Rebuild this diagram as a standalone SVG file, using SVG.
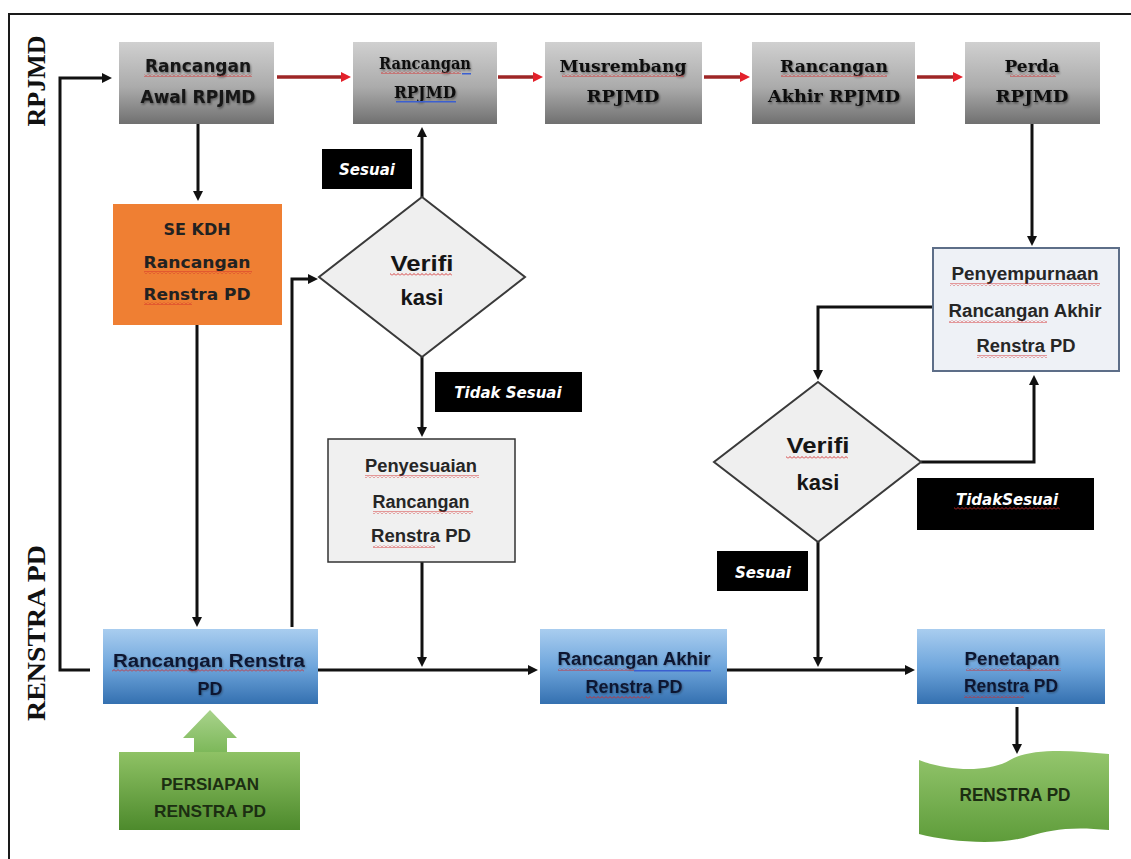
<svg xmlns="http://www.w3.org/2000/svg" width="1131" height="859" viewBox="0 0 1131 859">
<style>
.gray{fill:url(#gGray);}
.blue{fill:url(#gBlue);}
.ts{font-family:"DejaVu Sans",sans-serif;font-weight:bold;font-size:17px;fill:#151515;text-anchor:middle;filter:url(#sh);}
.tserif{font-family:"DejaVu Serif",serif;font-weight:bold;font-size:17px;fill:#111;text-anchor:middle;filter:url(#sh);}
.tse{font-family:"DejaVu Sans",sans-serif;font-weight:bold;font-size:16px;fill:#222;text-anchor:middle;}
.tdia{font-family:"Liberation Sans",Arial,sans-serif;font-weight:bold;font-size:22px;fill:#151515;text-anchor:middle;}
.tbox{font-family:"Liberation Sans",Arial,sans-serif;font-weight:bold;font-size:18px;fill:#262626;text-anchor:middle;}
.tblue{font-family:"Liberation Sans",Arial,sans-serif;font-weight:bold;font-size:18px;fill:#0f1830;text-anchor:middle;filter:url(#sh2);}
.tgreen{font-family:"Liberation Sans",Arial,sans-serif;font-weight:bold;font-size:17px;fill:#1c2e12;text-anchor:middle;}
.lbl{font-family:"DejaVu Sans",sans-serif;font-weight:bold;font-style:italic;font-size:15px;fill:#fff;text-anchor:middle;}
.lane{font-family:"Liberation Serif","Times New Roman",serif;font-weight:bold;font-size:26px;fill:#111;text-anchor:middle;}
.dia{fill:#efefef;stroke:#3a3a3a;stroke-width:2;}
.con{fill:none;stroke:#111;stroke-width:3;marker-end:url(#ah);}
.red{fill:none;stroke:#9e2626;stroke-width:3.5;marker-end:url(#ahr);}
.sq{fill:url(#sq);}
.sqb{fill:#3b5fd0;}
</style>
<defs>
<linearGradient id="gGray" x1="0" y1="0" x2="0" y2="1">
<stop offset="0" stop-color="#d0d0d0"/><stop offset="0.55" stop-color="#ababab"/><stop offset="1" stop-color="#707070"/>
</linearGradient>
<linearGradient id="gBlue" x1="0" y1="0" x2="0" y2="1">
<stop offset="0" stop-color="#a9cdef"/><stop offset="0.5" stop-color="#6fa6dc"/><stop offset="1" stop-color="#3470b0"/>
</linearGradient>
<linearGradient id="gGreen" x1="0" y1="0" x2="0" y2="1">
<stop offset="0" stop-color="#8fc265"/><stop offset="1" stop-color="#4d8a2c"/>
</linearGradient>
<linearGradient id="gDoc" x1="0" y1="0" x2="0" y2="1">
<stop offset="0" stop-color="#94c66d"/><stop offset="1" stop-color="#5e9c3a"/>
</linearGradient>
<linearGradient id="gArr" x1="0" y1="0" x2="0" y2="1">
<stop offset="0" stop-color="#a9d38c"/><stop offset="1" stop-color="#7db85a"/>
</linearGradient>
<pattern id="sq" patternUnits="userSpaceOnUse" width="4" height="3">
<path d="M0,2.5 L2,0.5 L4,2.5" fill="none" stroke="#d42a2a" stroke-width="0.9"/>
</pattern>
<filter id="sh" x="-10%" y="-40%" width="120%" height="180%">
<feDropShadow dx="1" dy="1.5" stdDeviation="1.2" flood-color="#000" flood-opacity="0.45"/>
</filter>
<filter id="sh2" x="-10%" y="-40%" width="120%" height="180%">
<feDropShadow dx="0.8" dy="1" stdDeviation="1" flood-color="#000" flood-opacity="0.35"/>
</filter>
<marker id="ah" viewBox="0 0 10 10" markerWidth="11" markerHeight="10" refX="1" refY="5" orient="auto" markerUnits="userSpaceOnUse">
<path d="M0,0 L10,5 L0,10 z" fill="#111"/>
</marker>
<marker id="ahr" viewBox="0 0 10 10" markerWidth="11" markerHeight="10" refX="1" refY="5" orient="auto" markerUnits="userSpaceOnUse">
<path d="M0,0 L10,5 L0,10 z" fill="#e3212b"/>
</marker>
</defs>

<rect x="0" y="0" width="1131" height="859" fill="#fff"/>
<path d="M9,859 V14 H1131" fill="none" stroke="#1a1a1a" stroke-width="2"/>

<g id="lanes">
<text class="lane" transform="translate(45,81) rotate(-90)">RPJMD</text>
<text class="lane" transform="translate(45,633) rotate(-90)" textLength="176" lengthAdjust="spacingAndGlyphs">RENSTRA PD</text>
</g>

<g id="connectors">
<path class="red" d="M277,77 H342"/>
<path class="red" d="M498,77 H534"/>
<path class="red" d="M704,77 H741"/>
<path class="red" d="M917,77 H954"/>
<path class="con" d="M90,670 H60 V78 H103"/>
<path class="con" d="M198,124 V192"/>
<path class="con" d="M197,325 V618"/>
<path class="con" d="M292,627 V279 H309"/>
<path class="con" d="M422,197 V136"/>
<path class="con" d="M422,357 V428"/>
<path class="con" d="M422,562 V658"/>
<path class="con" d="M318,670 H529"/>
<path class="con" d="M727,670 H906"/>
<path class="con" d="M1032,124 V237"/>
<path class="con" d="M933,307 H818 V371"/>
<path class="con" d="M921,462 H1034 V384"/>
<path class="con" d="M818,542 V658"/>
<path class="con" d="M1017,707 V745"/>
</g>

<g id="n-rancangan-awal">
<rect class="gray" x="119" y="42" width="155" height="82"/>
<text class="ts" x="198" y="72">Rancangan</text>
<rect class="sq" x="144" y="74" width="108" height="3"/>
<text class="ts" x="198" y="103">Awal RPJMD</text>
</g>

<g id="n-rancangan-rpjmd">
<rect class="gray" x="353" y="42" width="144" height="82"/>
<text class="tserif" x="425" y="69" style="font-size:16px" textLength="92" lengthAdjust="spacingAndGlyphs">Rancangan</text>
<rect class="sq" x="381" y="71" width="80" height="3"/>
<rect class="sqb" x="462" y="73" width="9" height="1.5"/>
<text class="tserif" x="425" y="98" style="font-size:16px" textLength="62" lengthAdjust="spacingAndGlyphs">RPJMD</text>
<rect class="sqb" x="396" y="101" width="60" height="1.5"/>
</g>

<g id="n-musrembang">
<rect class="gray" x="545" y="42" width="157" height="82"/>
<text class="tserif" x="623" y="72" textLength="127" lengthAdjust="spacingAndGlyphs">Musrembang</text>
<rect class="sq" x="562" y="74" width="122" height="3"/>
<text class="tserif" x="623" y="102" textLength="73" lengthAdjust="spacingAndGlyphs">RPJMD</text>
</g>

<g id="n-akhir-rpjmd">
<rect class="gray" x="752" y="42" width="163" height="82"/>
<text class="tserif" x="834" y="72" textLength="108" lengthAdjust="spacingAndGlyphs">Rancangan</text>
<rect class="sq" x="781" y="74" width="106" height="3"/>
<text class="tserif" x="834" y="102" textLength="132" lengthAdjust="spacingAndGlyphs">Akhir RPJMD</text>
</g>

<g id="n-perda">
<rect class="gray" x="965" y="42" width="135" height="82"/>
<text class="tserif" x="1032" y="72">Perda</text>
<rect class="sq" x="1010" y="74" width="46" height="3"/>
<text class="tserif" x="1032" y="102" textLength="73" lengthAdjust="spacingAndGlyphs">RPJMD</text>
</g>

<g id="n-sekdh">
<rect x="113" y="204" width="169" height="121" fill="#ef7f33"/>
<text class="tse" x="197" y="235">SE KDH</text>
<text class="tse" x="197" y="268" textLength="107" lengthAdjust="spacingAndGlyphs">Rancangan</text>
<rect class="sq" x="144" y="271" width="108" height="3"/>
<text class="tse" x="197" y="300" textLength="107" lengthAdjust="spacingAndGlyphs">Renstra PD</text>
<rect class="sq" x="144" y="302" width="48" height="3"/>
</g>

<g id="n-verif1">
<polygon class="dia" points="422,197 525,277 422,357 319,277"/>
<text class="tdia" x="422" y="271" textLength="63" lengthAdjust="spacingAndGlyphs">Verifi</text>
<rect class="sq" x="390" y="273" width="62" height="3"/>
<text class="tdia" x="422" y="305">kasi</text>
</g>

<g id="n-penyesuaian">
<rect x="328" y="439" width="187" height="123" fill="#f0f0f0" stroke="#333" stroke-width="1.5"/>
<text class="tbox" x="421" y="472" textLength="112" lengthAdjust="spacingAndGlyphs">Penyesuaian</text>
<rect class="sq" x="365" y="475" width="114" height="3"/>
<text class="tbox" x="421" y="508" textLength="97" lengthAdjust="spacingAndGlyphs">Rancangan</text>
<rect class="sq" x="373" y="511" width="100" height="3"/>
<text class="tbox" x="421" y="542" textLength="100" lengthAdjust="spacingAndGlyphs">Renstra PD</text>
<rect class="sq" x="373" y="545" width="62" height="3"/>
</g>

<g id="n-penyempurnaan">
<rect x="933" y="248" width="186" height="123" fill="#eef1f6" stroke="#5d6e88" stroke-width="2"/>
<text class="tbox" x="1025" y="280" textLength="147" lengthAdjust="spacingAndGlyphs">Penyempurnaan</text>
<rect class="sq" x="950" y="283" width="150" height="3"/>
<text class="tbox" x="1025" y="317" textLength="153" lengthAdjust="spacingAndGlyphs">Rancangan Akhir</text>
<rect class="sq" x="949" y="320" width="98" height="3"/>
<text class="tbox" x="1026" y="352" textLength="99" lengthAdjust="spacingAndGlyphs">Renstra PD</text>
<rect class="sq" x="977" y="355" width="70" height="3"/>
</g>

<g id="n-verif2">
<polygon class="dia" points="818,382 921,462 818,542 714,462"/>
<text class="tdia" x="818" y="453" textLength="63" lengthAdjust="spacingAndGlyphs">Verifi</text>
<rect class="sq" x="786" y="456" width="62" height="3"/>
<text class="tdia" x="818" y="490">kasi</text>
</g>

<g id="n-label-sesuai1">
<rect x="322" y="149" width="90" height="40" fill="#000"/>
<text class="lbl" x="367" y="175">Sesuai</text>
</g>
<g id="n-label-tidak1">
<rect x="435" y="372" width="147" height="40" fill="#000"/>
<text class="lbl" x="508" y="398">Tidak Sesuai</text>
</g>
<g id="n-label-tidak2">
<rect x="917" y="478" width="177" height="52" fill="#000"/>
<text class="lbl" x="1007" y="505">TidakSesuai</text>
<rect class="sq" x="954" y="507" width="106" height="3"/>
</g>
<g id="n-label-sesuai2">
<rect x="717" y="551" width="91" height="40" fill="#000"/>
<text class="lbl" x="763" y="578">Sesuai</text>
</g>

<g id="n-rancangan-renstra">
<rect class="blue" x="103" y="629" width="215" height="75"/>
<text class="tblue" x="209" y="667" textLength="192" lengthAdjust="spacingAndGlyphs">Rancangan Renstra</text>
<rect class="sq" x="112" y="669" width="192" height="3"/>
<text class="tblue" x="210" y="695">PD</text>
</g>

<g id="n-rancangan-akhir">
<rect class="blue" x="540" y="629" width="187" height="75"/>
<text class="tblue" x="634" y="665" textLength="153" lengthAdjust="spacingAndGlyphs">Rancangan  Akhir</text>
<rect class="sq" x="558" y="668" width="76" height="3"/>
<rect class="sqb" x="634" y="670" width="77" height="1.5"/>
<text class="tblue" x="634" y="693">Renstra PD</text>
<rect class="sq" x="586" y="696" width="64" height="3"/>
</g>

<g id="n-penetapan">
<rect class="blue" x="917" y="629" width="188" height="75"/>
<text class="tblue" x="1012" y="665" textLength="95" lengthAdjust="spacingAndGlyphs">Penetapan</text>
<rect class="sq" x="966" y="668" width="95" height="3"/>
<text class="tblue" x="1011" y="692" textLength="94" lengthAdjust="spacingAndGlyphs">Renstra PD</text>
<rect class="sq" x="964" y="695" width="60" height="3"/>
</g>

<g id="n-persiapan">
<polygon points="210,710 237,738 227,738 227,752 194,752 194,738 183,738" fill="url(#gArr)"/>
<rect x="119" y="752" width="181" height="78" fill="url(#gGreen)"/>
<text class="tgreen" x="210" y="790">PERSIAPAN</text>
<text class="tgreen" x="210" y="817" textLength="112" lengthAdjust="spacingAndGlyphs">RENSTRA PD</text>
</g>

<g id="n-renstra-doc">
<path d="M919,760 C950,772 990,772 1010,760 C1030,748 1070,750 1109,754 L1109,830 C1070,826 1050,830 1030,836 C1000,846 950,842 919,834 Z" fill="url(#gDoc)"/>
<text class="tgreen" x="1015" y="801" style="font-size:18px" textLength="111" lengthAdjust="spacingAndGlyphs">RENSTRA PD</text>
</g>
</svg>
